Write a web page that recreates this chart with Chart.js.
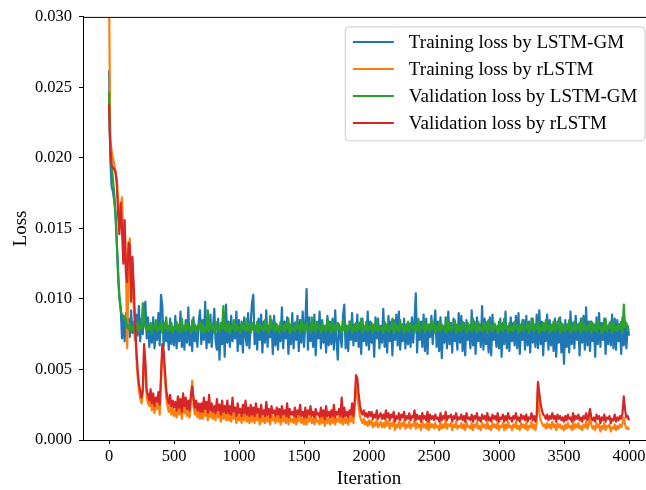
<!DOCTYPE html>
<html><head><meta charset="utf-8">
<script src="https://cdn.jsdelivr.net/npm/chart.js@4/dist/chart.umd.min.js"></script>
<style>
html,body{margin:0;padding:0;background:#fff;overflow:hidden;width:646px;height:490px}
#wrap{position:absolute;left:0;top:0;width:660px;height:490px}
</style>
</head><body><div id="wrap"><canvas id="c" width="660" height="490"></canvas></div>
<script>
// iteration spacing between stored samples
const ITER_STEP = 10;
const xTickValues = [0, 500, 1000, 1500, 2000, 2500, 3000, 3500, 4000];
const yTickValues = [0, 0.005, 0.010, 0.015, 0.020, 0.025, 0.030];
const seriesLabels = ['Training loss by LSTM-GM', 'Training loss by rLSTM', 'Validation loss by LSTM-GM', 'Validation loss by rLSTM'];

const trainLossLSTMGM = [
0.0262,0.0200,0.0180,0.0176,0.0170,0.0160,0.0140,0.0120,0.0102,0.0094,
0.0072,0.0088,0.0070,0.0090,0.0078,0.0086,0.0073,0.0092,0.0076,0.0084,
0.0071,0.0089,0.0074,0.0095,0.0070,0.0086,0.0075,0.0092,0.0098,0.0072,0.0087,
0.0066,0.0082,0.0069,0.0087,0.0065,0.0079,0.0071,0.0090,0.0067,0.0103,
0.0095,0.0066,0.0083,0.0070,0.0078,0.0064,0.0086,0.0068,0.0080,0.0067,
0.0088,0.0065,0.0081,0.0070,0.0091,0.0066,0.0078,0.0064,0.0085,0.0069,
0.0094,0.0067,0.0080,0.0063,0.0087,0.0070,0.0079,0.0066,0.0084,0.0092,
0.0068,0.0085,0.0071,0.0098,0.0065,0.0082,0.0069,0.0089,0.0066,0.0080,
0.0093,0.0070,0.0064,0.0086,0.0057,0.0081,0.0068,0.0090,0.0059,0.0096,
0.0069,0.0084,0.0066,0.0088,0.0070,0.0079,0.0072,0.0091,0.0063,0.0085,
0.0068,0.0082,0.0062,0.0087,0.0074,0.0067,0.0090,0.0065,0.0083,0.0097,
0.0103,0.0068,0.0081,0.0064,0.0086,0.0071,0.0089,0.0062,0.0084,0.0069,
0.0092,0.0066,0.0080,0.0073,0.0085,0.0061,0.0088,0.0067,0.0082,0.0064,
0.0081,0.0070,0.0094,0.0065,0.0084,0.0072,0.0087,0.0061,0.0079,0.0068,
0.0090,0.0065,0.0083,0.0071,0.0088,0.0063,0.0085,0.0069,0.0091,0.0066,
0.0083,0.0107,0.0064,0.0087,0.0070,0.0083,0.0066,0.0089,0.0060,0.0082,
0.0072,0.0091,0.0065,0.0085,0.0069,0.0081,0.0062,0.0088,0.0067,0.0084,
0.0068,0.0086,0.0064,0.0092,0.0070,0.0057,0.0082,0.0074,0.0066,0.0088,
0.0096,0.0065,0.0081,0.0063,0.0084,0.0071,0.0090,0.0067,0.0082,0.0070,
0.0089,0.0066,0.0083,0.0061,0.0086,0.0070,0.0080,0.0067,0.0091,0.0064,
0.0084,0.0069,0.0080,0.0059,0.0087,0.0072,0.0086,0.0065,0.0081,0.0069,
0.0093,0.0066,0.0082,0.0062,0.0088,0.0070,0.0084,0.0060,0.0085,0.0071,
0.0089,0.0067,0.0091,0.0064,0.0080,0.0070,0.0086,0.0065,0.0082,0.0068,
0.0081,0.0066,0.0087,0.0069,0.0084,0.0104,0.0062,0.0083,0.0071,0.0084,
0.0066,0.0089,0.0063,0.0086,0.0061,0.0082,0.0073,0.0088,0.0068,0.0081,
0.0092,0.0066,0.0084,0.0063,0.0087,0.0058,0.0080,0.0069,0.0087,0.0065,
0.0091,0.0068,0.0083,0.0062,0.0086,0.0070,0.0079,0.0064,0.0090,0.0069,
0.0088,0.0063,0.0083,0.0060,0.0085,0.0071,0.0080,0.0065,0.0092,0.0067,
0.0084,0.0061,0.0087,0.0070,0.0082,0.0066,0.0095,0.0064,0.0086,0.0068,
0.0084,0.0062,0.0087,0.0060,0.0089,0.0071,0.0082,0.0066,0.0081,0.0065,
0.0086,0.0059,0.0083,0.0068,0.0091,0.0065,0.0080,0.0063,0.0087,0.0070,
0.0083,0.0067,0.0088,0.0065,0.0090,0.0061,0.0082,0.0071,0.0085,0.0064,
0.0088,0.0067,0.0084,0.0062,0.0086,0.0069,0.0082,0.0066,0.0089,0.0065,
0.0092,0.0068,0.0084,0.0060,0.0081,0.0070,0.0089,0.0064,0.0085,0.0067,
0.0081,0.0063,0.0086,0.0059,0.0084,0.0069,0.0087,0.0062,0.0082,0.0054,
0.0085,0.0066,0.0080,0.0062,0.0091,0.0068,0.0083,0.0065,0.0088,0.0071,
0.0082,0.0060,0.0086,0.0069,0.0088,0.0064,0.0094,0.0067,0.0084,0.0063,
0.0084,0.0070,0.0082,0.0059,0.0087,0.0068,0.0090,0.0066,0.0083,0.0071,
0.0086,0.0061,0.0081,0.0068,0.0083,0.0067,0.0089,0.0065,0.0086,0.0064,
0.0085,0.0070,0.0082,0.0061,0.0087,0.0067,0.0084,0.0065,0.0081,0.0074
];

const trainLossRLSTM = [
0.0320,0.0213,0.0205,0.0200,0.0196,0.0190,0.0185,0.0170,0.0150,0.0165,
0.0172,0.0140,0.0155,0.0128,0.0065,0.0120,0.0143,0.0100,0.0125,0.0095,
0.0080,0.0060,0.0045,0.0035,0.0030,0.0026,0.0033,0.0062,0.0050,0.0030,0.0026,
0.0024,0.0030,0.0021,0.0027,0.0019,0.0025,0.0022,0.0028,0.0018,0.0040,
0.0063,0.0058,0.0044,0.0030,0.0024,0.0020,0.0027,0.0018,0.0023,0.0017,
0.0021,0.0016,0.0026,0.0018,0.0023,0.0015,0.0028,0.0019,0.0024,0.0017,
0.0022,0.0016,0.0027,0.0042,0.0025,0.0018,0.0023,0.0016,0.0021,0.0015,
0.0020,0.0015,0.0025,0.0017,0.0022,0.0014,0.0027,0.0016,0.0021,0.0015,
0.0019,0.0014,0.0024,0.0016,0.0020,0.0013,0.0023,0.0015,0.0019,0.0014,
0.0022,0.0014,0.0019,0.0013,0.0024,0.0015,0.0018,0.0012,0.0021,0.0014,
0.0017,0.0012,0.0020,0.0014,0.0023,0.0013,0.0018,0.0012,0.0020,0.0013,
0.0018,0.0012,0.0021,0.0014,0.0017,0.0011,0.0020,0.0013,0.0016,0.0012,
0.0022,0.0013,0.0017,0.0011,0.0019,0.0014,0.0016,0.0012,0.0018,0.0013,
0.0017,0.0011,0.0019,0.0013,0.0016,0.0012,0.0021,0.0011,0.0017,0.0013,
0.0015,0.0012,0.0018,0.0011,0.0016,0.0013,0.0020,0.0012,0.0015,0.0011,
0.0018,0.0011,0.0016,0.0013,0.0019,0.0012,0.0015,0.0011,0.0017,0.0013,
0.0014,0.0011,0.0018,0.0012,0.0016,0.0010,0.0019,0.0012,0.0015,0.0011,
0.0016,0.0012,0.0020,0.0011,0.0015,0.0013,0.0017,0.0012,0.0022,0.0011,
0.0018,0.0012,0.0015,0.0011,0.0016,0.0013,0.0021,0.0012,0.0022,0.0037,
0.0033,0.0024,0.0017,0.0014,0.0012,0.0015,0.0011,0.0013,0.0010,0.0014,
0.0011,0.0014,0.0009,0.0012,0.0010,0.0015,0.0009,0.0011,0.0013,0.0009,
0.0012,0.0009,0.0015,0.0010,0.0013,0.0008,0.0012,0.0010,0.0014,0.0007,
0.0011,0.0009,0.0013,0.0008,0.0012,0.0010,0.0014,0.0008,0.0011,0.0009,
0.0013,0.0008,0.0011,0.0010,0.0015,0.0008,0.0012,0.0009,0.0011,0.0007,
0.0013,0.0009,0.0011,0.0008,0.0014,0.0007,0.0012,0.0009,0.0011,0.0008,
0.0012,0.0009,0.0010,0.0007,0.0013,0.0008,0.0011,0.0009,0.0014,0.0008,
0.0011,0.0010,0.0012,0.0007,0.0011,0.0009,0.0013,0.0008,0.0010,0.0009,
0.0012,0.0008,0.0011,0.0007,0.0013,0.0009,0.0010,0.0008,0.0012,0.0007,
0.0011,0.0009,0.0013,0.0008,0.0010,0.0007,0.0012,0.0009,0.0011,0.0008,
0.0013,0.0008,0.0010,0.0007,0.0012,0.0009,0.0011,0.0008,0.0013,0.0007,
0.0010,0.0009,0.0012,0.0007,0.0011,0.0008,0.0013,0.0009,0.0010,0.0007,
0.0011,0.0009,0.0013,0.0008,0.0010,0.0007,0.0012,0.0009,0.0011,0.0008,
0.0012,0.0007,0.0010,0.0009,0.0013,0.0008,0.0011,0.0007,0.0012,0.0041,
0.0020,0.0014,0.0012,0.0010,0.0011,0.0008,0.0012,0.0009,0.0011,0.0008,
0.0013,0.0009,0.0011,0.0007,0.0012,0.0009,0.0011,0.0008,0.0010,0.0007,
0.0011,0.0008,0.0012,0.0009,0.0010,0.0007,0.0013,0.0008,0.0011,0.0009,
0.0012,0.0008,0.0010,0.0007,0.0011,0.0009,0.0013,0.0008,0.0011,0.0017,
0.0011,0.0008,0.0010,0.0007,0.0012,0.0009,0.0011,0.0006,0.0010,0.0008,
0.0012,0.0007,0.0010,0.0009,0.0011,0.0006,0.0009,0.0008,0.0011,0.0007,
0.0010,0.0008,0.0011,0.0009,0.0012,0.0016,0.0011,0.0008,0.0009,0.0007
];

const valLossLSTMGM = [
0.0247,0.0205,0.0195,0.0185,0.0175,0.0160,0.0140,0.0115,0.0100,0.0092,
0.0089,0.0088,0.0085,0.0086,0.0080,0.0079,0.0082,0.0078,0.0080,0.0077,
0.0083,0.0078,0.0084,0.0077,0.0081,0.0079,0.0097,0.0084,0.0080,0.0078,0.0082,
0.0078,0.0083,0.0076,0.0081,0.0079,0.0085,0.0077,0.0080,0.0078,0.0084,
0.0076,0.0082,0.0079,0.0087,0.0077,0.0081,0.0078,0.0083,0.0076,0.0080,
0.0079,0.0084,0.0077,0.0082,0.0076,0.0086,0.0078,0.0081,0.0077,0.0083,
0.0079,0.0080,0.0076,0.0085,0.0078,0.0082,0.0077,0.0081,0.0079,0.0084,
0.0077,0.0082,0.0076,0.0080,0.0078,0.0092,0.0077,0.0083,0.0079,0.0081,
0.0076,0.0084,0.0078,0.0080,0.0077,0.0083,0.0079,0.0095,0.0078,0.0082,
0.0077,0.0083,0.0076,0.0081,0.0079,0.0085,0.0077,0.0082,0.0078,0.0080,
0.0076,0.0084,0.0079,0.0081,0.0077,0.0086,0.0078,0.0082,0.0076,0.0083,
0.0078,0.0081,0.0077,0.0084,0.0076,0.0082,0.0079,0.0080,0.0077,0.0085,
0.0078,0.0081,0.0076,0.0088,0.0079,0.0082,0.0077,0.0083,0.0078,0.0080,
0.0076,0.0084,0.0078,0.0081,0.0077,0.0083,0.0079,0.0086,0.0076,0.0082,
0.0078,0.0080,0.0077,0.0084,0.0079,0.0081,0.0076,0.0085,0.0078,0.0082,
0.0077,0.0083,0.0079,0.0080,0.0076,0.0087,0.0078,0.0082,0.0077,0.0084,
0.0079,0.0081,0.0076,0.0083,0.0078,0.0080,0.0077,0.0086,0.0079,0.0082,
0.0076,0.0084,0.0078,0.0081,0.0077,0.0083,0.0079,0.0080,0.0076,0.0085,
0.0078,0.0082,0.0077,0.0081,0.0079,0.0084,0.0076,0.0080,0.0078,0.0083,
0.0077,0.0082,0.0079,0.0086,0.0076,0.0081,0.0078,0.0084,0.0077,0.0080,
0.0079,0.0083,0.0076,0.0082,0.0078,0.0085,0.0077,0.0081,0.0079,0.0080,
0.0076,0.0084,0.0078,0.0082,0.0077,0.0080,0.0079,0.0086,0.0076,0.0083,
0.0078,0.0081,0.0077,0.0085,0.0079,0.0082,0.0076,0.0080,0.0078,0.0084,
0.0077,0.0083,0.0079,0.0081,0.0076,0.0082,0.0078,0.0086,0.0077,0.0080,
0.0079,0.0084,0.0076,0.0082,0.0078,0.0081,0.0077,0.0085,0.0079,0.0083,
0.0076,0.0080,0.0078,0.0084,0.0077,0.0082,0.0079,0.0081,0.0076,0.0086,
0.0078,0.0083,0.0077,0.0080,0.0079,0.0085,0.0076,0.0082,0.0078,0.0081,
0.0077,0.0084,0.0079,0.0080,0.0076,0.0083,0.0078,0.0082,0.0077,0.0086,
0.0079,0.0081,0.0076,0.0084,0.0078,0.0080,0.0077,0.0083,0.0079,0.0082,
0.0076,0.0085,0.0078,0.0081,0.0077,0.0083,0.0079,0.0080,0.0076,0.0084,
0.0078,0.0082,0.0077,0.0086,0.0079,0.0081,0.0076,0.0083,0.0078,0.0080,
0.0077,0.0084,0.0079,0.0082,0.0076,0.0081,0.0078,0.0085,0.0077,0.0080,
0.0079,0.0083,0.0076,0.0082,0.0078,0.0086,0.0077,0.0081,0.0079,0.0084,
0.0076,0.0080,0.0078,0.0083,0.0077,0.0085,0.0079,0.0081,0.0076,0.0082,
0.0078,0.0084,0.0077,0.0080,0.0079,0.0086,0.0076,0.0083,0.0078,0.0081,
0.0077,0.0082,0.0079,0.0085,0.0076,0.0080,0.0078,0.0084,0.0077,0.0081,
0.0079,0.0083,0.0076,0.0086,0.0078,0.0082,0.0077,0.0080,0.0079,0.0084,
0.0076,0.0083,0.0078,0.0081,0.0077,0.0085,0.0079,0.0080,0.0076,0.0082,
0.0078,0.0086,0.0077,0.0081,0.0079,0.0084,0.0076,0.0083,0.0078,0.0080,
0.0077,0.0082,0.0079,0.0084,0.0076,0.0096,0.0080,0.0083,0.0078,0.0079
];

const valLossRLSTM = [
0.0238,0.0206,0.0195,0.0193,0.0192,0.0190,0.0182,0.0160,0.0146,0.0168,
0.0150,0.0125,0.0156,0.0118,0.0112,0.0140,0.0138,0.0098,0.0130,0.0110,
0.0085,0.0065,0.0050,0.0040,0.0035,0.0030,0.0036,0.0068,0.0055,0.0035,0.0032,
0.0028,0.0036,0.0026,0.0033,0.0024,0.0030,0.0027,0.0034,0.0025,0.0045,
0.0068,0.0064,0.0050,0.0036,0.0030,0.0026,0.0032,0.0024,0.0028,0.0023,
0.0027,0.0021,0.0031,0.0023,0.0029,0.0020,0.0033,0.0024,0.0030,0.0022,
0.0028,0.0021,0.0032,0.0038,0.0030,0.0023,0.0028,0.0021,0.0026,0.0020,
0.0026,0.0020,0.0030,0.0022,0.0027,0.0019,0.0032,0.0021,0.0026,0.0020,
0.0024,0.0019,0.0029,0.0021,0.0025,0.0018,0.0028,0.0020,0.0024,0.0019,
0.0028,0.0019,0.0024,0.0018,0.0030,0.0020,0.0023,0.0017,0.0026,0.0019,
0.0022,0.0017,0.0025,0.0019,0.0028,0.0018,0.0023,0.0017,0.0025,0.0018,
0.0023,0.0017,0.0026,0.0019,0.0022,0.0016,0.0025,0.0018,0.0021,0.0017,
0.0027,0.0018,0.0022,0.0016,0.0024,0.0019,0.0021,0.0017,0.0023,0.0018,
0.0022,0.0016,0.0024,0.0018,0.0021,0.0017,0.0026,0.0016,0.0022,0.0018,
0.0020,0.0017,0.0023,0.0016,0.0021,0.0018,0.0025,0.0017,0.0020,0.0016,
0.0023,0.0016,0.0021,0.0018,0.0024,0.0017,0.0020,0.0016,0.0022,0.0018,
0.0019,0.0016,0.0023,0.0017,0.0021,0.0015,0.0024,0.0017,0.0020,0.0016,
0.0021,0.0017,0.0025,0.0016,0.0020,0.0018,0.0022,0.0017,0.0030,0.0016,
0.0023,0.0017,0.0020,0.0016,0.0021,0.0018,0.0026,0.0017,0.0028,0.0046,
0.0044,0.0033,0.0025,0.0020,0.0018,0.0021,0.0017,0.0019,0.0016,0.0020,
0.0017,0.0020,0.0015,0.0018,0.0016,0.0021,0.0015,0.0017,0.0019,0.0015,
0.0018,0.0015,0.0021,0.0016,0.0019,0.0014,0.0018,0.0016,0.0020,0.0013,
0.0017,0.0015,0.0019,0.0014,0.0018,0.0016,0.0020,0.0014,0.0017,0.0015,
0.0019,0.0014,0.0017,0.0016,0.0021,0.0014,0.0018,0.0015,0.0017,0.0013,
0.0019,0.0015,0.0017,0.0014,0.0020,0.0013,0.0018,0.0015,0.0017,0.0014,
0.0018,0.0015,0.0016,0.0013,0.0019,0.0014,0.0017,0.0015,0.0020,0.0014,
0.0017,0.0016,0.0018,0.0013,0.0017,0.0015,0.0019,0.0014,0.0016,0.0015,
0.0018,0.0014,0.0017,0.0013,0.0019,0.0015,0.0016,0.0014,0.0018,0.0013,
0.0017,0.0015,0.0019,0.0014,0.0016,0.0013,0.0018,0.0015,0.0017,0.0014,
0.0019,0.0014,0.0016,0.0013,0.0018,0.0015,0.0017,0.0014,0.0019,0.0013,
0.0016,0.0015,0.0018,0.0013,0.0017,0.0014,0.0019,0.0015,0.0016,0.0013,
0.0017,0.0015,0.0019,0.0014,0.0016,0.0013,0.0018,0.0015,0.0017,0.0014,
0.0018,0.0013,0.0016,0.0015,0.0019,0.0014,0.0017,0.0013,0.0018,0.0041,
0.0033,0.0026,0.0021,0.0018,0.0017,0.0015,0.0018,0.0014,0.0017,0.0015,
0.0019,0.0015,0.0017,0.0013,0.0018,0.0015,0.0017,0.0014,0.0016,0.0013,
0.0017,0.0014,0.0018,0.0015,0.0016,0.0013,0.0019,0.0014,0.0017,0.0015,
0.0018,0.0014,0.0016,0.0013,0.0017,0.0015,0.0019,0.0014,0.0017,0.0022,
0.0016,0.0014,0.0016,0.0013,0.0018,0.0015,0.0017,0.0012,0.0016,0.0014,
0.0018,0.0013,0.0016,0.0015,0.0017,0.0012,0.0015,0.0014,0.0018,0.0013,
0.0016,0.0014,0.0017,0.0015,0.0019,0.0031,0.0021,0.0016,0.0017,0.0014
];

const seriesColors = ['#1f77b4', '#ff7f0e', '#2ca02c', '#d62728'];
const allSeries = [trainLossLSTMGM, trainLossRLSTM, valLossLSTMGM, valLossRLSTM];
const FONT = 'Liberation Serif';

const datasets = allSeries.map((arr, k) => ({
  label: seriesLabels[k],
  data: arr.map((v, i) => ({x: i * ITER_STEP, y: v})),
  borderColor: seriesColors[k],
  backgroundColor: seriesColors[k],
  borderWidth: 2.2,
  pointRadius: 0,
  tension: 0,
  fill: false,
  borderJoinStyle: 'round',
  order: 3 - k,
  clip: 0
}));

const boxLegend = {
  id: 'boxLegend',
  afterDraw(chart) {
    const {ctx, chartArea: a} = chart;
    ctx.save();
    // top spine
    ctx.strokeStyle = '#000';
    ctx.lineWidth = 1;
    ctx.beginPath();
    ctx.moveTo(a.left, a.top + 0.5);
    ctx.lineTo(a.right, a.top + 0.5);
    ctx.stroke();
    // legend box
    const fs = 19;
    ctx.font = fs + 'px "' + FONT + '"';
    let maxW = 0;
    chart.data.datasets.forEach(d => { maxW = Math.max(maxW, ctx.measureText(d.label).width); });
    const pad = 7.6, handle = 41, gap = 15, rowH = 27;
    const w = pad + handle + gap + maxW + pad;
    const h = 114;
    const right = a.right - 10, top = a.top + 10;
    const left = right - w;
    const r = 4;
    ctx.beginPath();
    ctx.moveTo(left + r, top);
    ctx.lineTo(right - r, top); ctx.arcTo(right, top, right, top + r, r);
    ctx.lineTo(right, top + h - r); ctx.arcTo(right, top + h, right - r, top + h, r);
    ctx.lineTo(left + r, top + h); ctx.arcTo(left, top + h, left, top + h - r, r);
    ctx.lineTo(left, top + r); ctx.arcTo(left, top, left + r, top, r);
    ctx.closePath();
    ctx.fillStyle = 'rgba(255,255,255,0.8)';
    ctx.fill();
    ctx.strokeStyle = '#cccccc';
    ctx.stroke();
    chart.data.datasets.forEach((d, i) => {
      const y = top + 15 + i * rowH;
      ctx.strokeStyle = d.borderColor;
      ctx.lineWidth = 2;
      ctx.beginPath();
      ctx.moveTo(left + pad, y);
      ctx.lineTo(left + pad + handle, y);
      ctx.stroke();
      ctx.fillStyle = '#000';
      ctx.textBaseline = 'middle';
      ctx.textAlign = 'left';
      ctx.fillText(d.label, left + pad + handle + gap, y + 1);
    });
    ctx.restore();
  }
};

new Chart(document.getElementById('c'), {
  type: 'line',
  data: {datasets},
  plugins: [boxLegend],
  options: {
    responsive: false,
    animation: false,
    devicePixelRatio: 1,
    layout: {padding: {top: 14, right: 5, left: 0, bottom: 0}},
    plugins: {legend: {display: false}, tooltip: {enabled: false}},
    scales: {
      x: {
        type: 'linear', min: -200, max: 4200,
        afterBuildTicks: s => { s.ticks = xTickValues.map(v => ({value: v})); },
        afterFit: s => { s.height = 50; },
        ticks: {font: {family: FONT, size: 16.5}, color: '#000', padding: 3, maxRotation: 0, autoSkip: false,
                callback: v => String(v)},
        grid: {display: true, drawOnChartArea: false, drawTicks: true, tickLength: 4, color: '#000', tickColor: '#000'},
        border: {display: true, color: '#000', width: 1},
        title: {display: true, text: 'Iteration', font: {family: FONT, size: 19}, color: '#000', padding: {top: 0, bottom: 0}}
      },
      y: {
        type: 'linear', min: 0, max: 0.03,
        afterBuildTicks: s => { s.ticks = yTickValues.map(v => ({value: v})); },
        afterFit: s => { s.width = 83; },
        ticks: {font: {family: FONT, size: 16.5}, color: '#000', padding: 7, autoSkip: false,
                callback: v => Number(v).toFixed(3)},
        grid: {display: true, drawOnChartArea: false, drawTicks: true, tickLength: 4, color: '#000', tickColor: '#000'},
        border: {display: true, color: '#000', width: 1},
        title: {display: true, text: 'Loss', font: {family: FONT, size: 19}, color: '#000', padding: {top: 10, bottom: 0}}
      }
    }
  }
});
</script>
</body></html>
